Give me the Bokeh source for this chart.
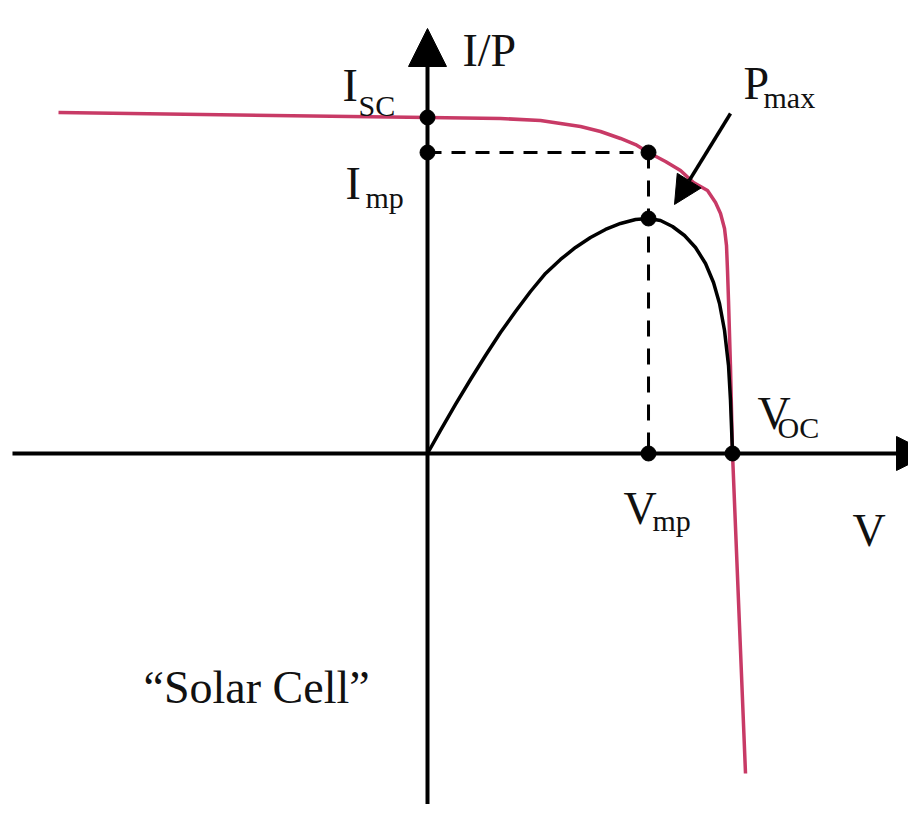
from bokeh.plotting import figure
from bokeh.models import Range1d, Arrow, NormalHead, Label
from bokeh.embed import file_html
from bokeh.resources import INLINE

# ---- data (normalised units: V / Voc, I / Isc, P scaled to the same axis) ----
iv_v = [-1.2098, 0.0, 0.2393, 0.3705, 0.4361, 0.5016, 0.5672, 0.6328, 0.6820,
        0.7246, 0.7803, 0.8295, 0.8721, 0.9180, 0.9443, 0.9607, 0.9738, 0.9803,
        0.9836, 0.9869, 0.9934, 0.9967, 1.0, 1.0426]
iv_i = [1.0149, 1.0, 0.9970, 0.9911, 0.9821, 0.9732, 0.9583, 0.9375, 0.9196,
        0.8958, 0.8690, 0.8423, 0.8065, 0.7827, 0.7470, 0.7143, 0.6696, 0.6190,
        0.5446, 0.4554, 0.2560, 0.1280, 0.0, -0.9524]

pv_v = [0.0, 0.0426, 0.0918, 0.1410, 0.1902, 0.2393, 0.2885, 0.3377, 0.3869,
        0.4361, 0.4852, 0.5344, 0.5836, 0.6328, 0.6820, 0.7246, 0.7639, 0.8033,
        0.8426, 0.8787, 0.9115, 0.9377, 0.9574, 0.9738, 0.9869, 0.9934, 1.0]
pv_p = [0.0, 0.0685, 0.1458, 0.2202, 0.2917, 0.3601, 0.4226, 0.4821, 0.5357,
        0.5774, 0.6131, 0.6429, 0.6667, 0.6845, 0.6964, 0.6994, 0.6935, 0.6756,
        0.6488, 0.6131, 0.5655, 0.5089, 0.4464, 0.3661, 0.2619, 0.1577, 0.0]

i_sc = 1.0
v_oc = 1.0
v_mp = 0.7246
i_mp = 0.8958
p_max = 0.6994

# marker points: Isc, Imp, MPP on I-V, Pmax, Vmp, Voc
pt_v = [0.0, 0.0, v_mp, v_mp, v_mp, v_oc]
pt_y = [i_sc, i_mp, i_mp, p_max, 0.0, 0.0]

# ---- layout (positions of axes / annotations / labels, data units) ----
X0, X1 = -1.4000, 1.5770
Y0, Y1 = -1.0447, 1.3482

haxis = (-1.3607, 1.6492)       # x start / end of V axis (y = 0)
vaxis = (-1.10, 1.2649)         # y start / end of I/P axis (x = 0)
pmax_arrow = (0.9934, 1.0119, 0.8098, 0.7411)

FONT = "Liberation Serif"
BIG, SUB = "46px", "30px"
labels = [
    ("I/P", 0.1148, 1.1994, BIG),
    ("I", -0.2787, 1.0952, BIG), ("SC", -0.2262, 1.0357, SUB),
    ("I", -0.2689, 0.8036, BIG), ("mp", -0.2033, 0.7619, SUB),
    ("P", 1.0361, 1.1012, BIG), ("max", 1.1016, 1.0595, SUB),
    ("V", 1.0820, 0.1190, BIG), ("OC", 1.1475, 0.0774, SUB),
    ("V", 0.6426, -0.1637, BIG), ("mp", 0.7377, -0.1994, SUB),
    ("V", 1.3934, -0.2292, BIG),
    ("\u201cSolar Cell\u201d", -0.9311, -0.6964, BIG),
]

RED = "#c83a66"

p = figure(width=908, height=804, x_range=Range1d(X0, X1), y_range=Range1d(Y0, Y1),
           x_axis_type=None, y_axis_type=None, toolbar_location=None,
           output_backend="svg", min_border=0, outline_line_color=None,
           background_fill_color="white", border_fill_color="white")

# axes with arrow heads
p.add_layout(Arrow(end=NormalHead(size=34, fill_color="black", line_color="black"),
                   x_start=haxis[0], y_start=0, x_end=haxis[1], y_end=0,
                   line_width=4, line_color="black"))
p.add_layout(Arrow(end=NormalHead(size=38, fill_color="black", line_color="black"),
                   x_start=0, y_start=vaxis[0], x_end=0, y_end=vaxis[1],
                   line_width=4, line_color="black"))

# curves
p.line(iv_v, iv_i, line_color=RED, line_width=3.5, line_join="round")
p.line(pv_v, pv_p, line_color="black", line_width=3.5, line_join="round")

# dashed guides
p.line([0, v_mp], [i_mp, i_mp], line_color="black", line_width=3, line_dash="14 10")
p.line([v_mp, v_mp], [i_mp, 0], line_color="black", line_width=3, line_dash="16 12")

# points
p.scatter(pt_v, pt_y, size=15, color="black")

# Pmax arrow
p.add_layout(Arrow(end=NormalHead(size=28, fill_color="black", line_color="black"),
                   x_start=pmax_arrow[0], y_start=pmax_arrow[1],
                   x_end=pmax_arrow[2], y_end=pmax_arrow[3],
                   line_width=3.5, line_color="black"))

for txt, lx, ly, fs in labels:
    p.add_layout(Label(x=lx, y=ly, text=txt, text_font=FONT, text_font_size=fs,
                       text_color="#111111", text_align="left",
                       text_baseline="alphabetic"))

open("out.html", "w").write(file_html(p, INLINE))
